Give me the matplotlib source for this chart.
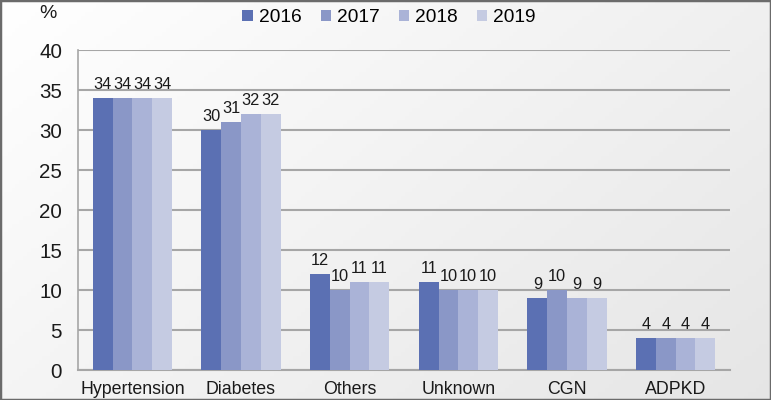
import numpy as np
import matplotlib
matplotlib.use("Agg")
import matplotlib.pyplot as plt
from matplotlib.patches import Rectangle

categories = ["Hypertension", "Diabetes", "Others", "Unknown", "CGN", "ADPKD"]
years = ["2016", "2017", "2018", "2019"]
v2016 = [34, 30, 12, 11, 9, 4]
v2017 = [34, 31, 10, 10, 10, 4]
v2018 = [34, 32, 11, 10, 9, 4]
v2019 = [34, 32, 11, 10, 9, 4]
series = [v2016, v2017, v2018, v2019]
colors = ["#5b70b3", "#8a97c7", "#aab3d7", "#c5cbe2"]
yticks = [0, 5, 10, 15, 20, 25, 30, 35, 40]

plt.rcParams['font.family'] = ['Liberation Sans', 'DejaVu Sans']

W, H = 771, 400
fig = plt.figure(figsize=(W/100, H/100), dpi=100)

# background gradient
bg = fig.add_axes([0, 0, 1, 1])
xx, yy = np.meshgrid(np.linspace(0, 1, 200), np.linspace(0, 1, 100))
g = 1.0 - 0.10 * (0.6*xx + 0.4*yy)
bg.imshow(np.dstack([g, g, g]), aspect='auto', extent=[0, 1, 0, 1], origin='upper')
bg.add_patch(Rectangle((0, 0), 1, 1, transform=bg.transAxes, fill=False,
                       edgecolor='#6b6b6b', linewidth=2.5))
bg.set_axis_off()

ax = fig.add_axes([78/W, 30/H, (730-78)/W, 320/H])
ax.set_facecolor('none')
x = np.arange(len(categories))
bw = 0.182
for i, (vals, c, yr) in enumerate(zip(series, colors, years)):
    pos = x + (i - 1.5) * bw
    ax.bar(pos, vals, width=bw, color=c, label=yr, zorder=3)
    for p, v in zip(pos, vals):
        ax.annotate(str(v), (p, v), xytext=(0, 4), textcoords='offset points',
                    ha='center', va='bottom', fontsize=11.8, color='#1a1a1a')

ax.set_xlim(-0.5, len(categories) - 0.5)
ax.set_ylim(0, 40)
ax.set_yticks(yticks)
ax.set_xticks(x)
ax.set_xticklabels(categories, fontsize=12.8, color='#1a1a1a')
ax.tick_params(axis='y', labelsize=14.8, colors='#1a1a1a', length=0, pad=11.5)
ax.tick_params(axis='x', length=0, pad=8)
ax.grid(axis='y', color='#a6a6a6', linewidth=1.5, zorder=0)
for s in ['top', 'right']:
    ax.spines[s].set_visible(False)
ax.spines['left'].set_color('#a6a6a6')
ax.spines['bottom'].set_color('#a6a6a6')
ax.spines['left'].set_linewidth(1.2)
ax.spines['bottom'].set_linewidth(1.5)

fig.text(48/W, 1 - 13/H, "%", fontsize=14, ha='center', va='center', color='#1a1a1a')

leg = fig.legend(loc='center', bbox_to_anchor=(389/W, 1 - 18/H), ncol=4, frameon=False,
                 fontsize=13.8, handlelength=0.55, handleheight=0.55, handletextpad=0.3,
                 columnspacing=1.0)

fig.savefig("out.png", dpi=100)
